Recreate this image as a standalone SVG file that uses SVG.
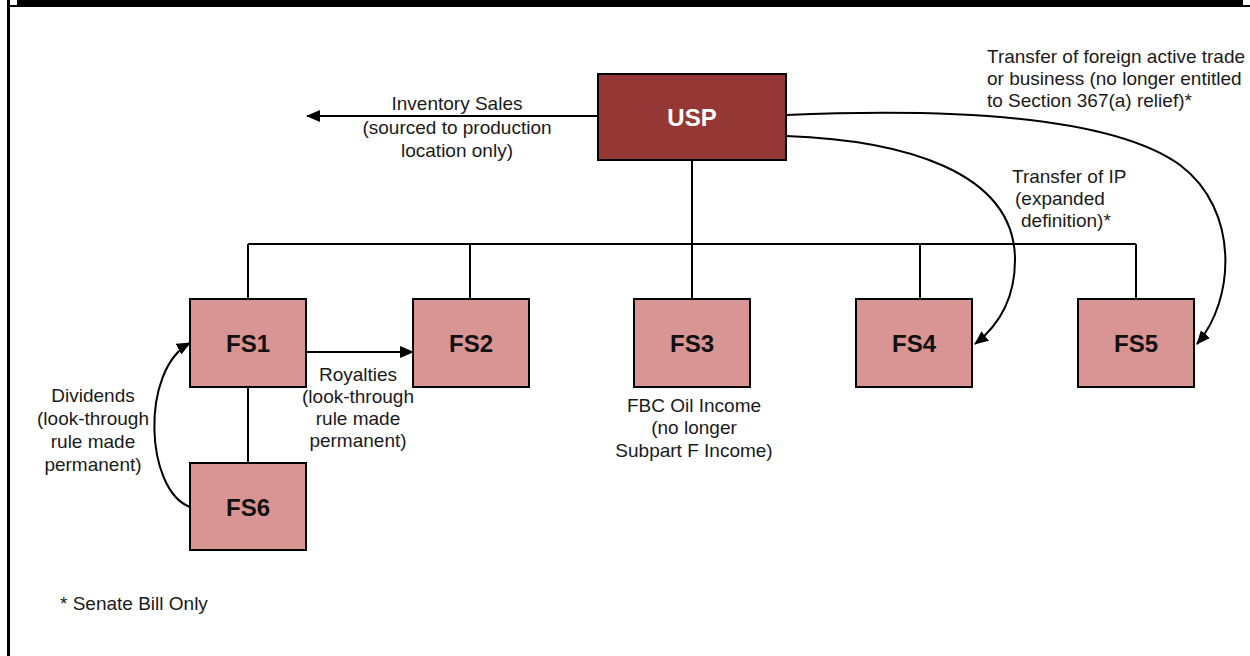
<svg xmlns="http://www.w3.org/2000/svg" width="1250" height="656" viewBox="0 0 1250 656">
  <style>
    .box { fill: #D99594; stroke: #000; stroke-width: 2; }
    .usp { fill: #953735; stroke: #000; stroke-width: 2; }
    .lbl { font-family: "Liberation Sans", Arial, sans-serif; font-size: 24px; font-weight: bold; text-anchor: middle; fill: #111; }
    .ulbl { font-family: "Liberation Sans", Arial, sans-serif; font-size: 24px; font-weight: bold; text-anchor: middle; fill: #fff; }
    .t { font-family: "Liberation Sans", Arial, sans-serif; font-size: 19px; fill: #1a1a1a; }
    .c { text-anchor: middle; }
    .ln { fill: none; stroke: #000; stroke-width: 2; }
    .ar { fill: none; stroke: #000; stroke-width: 2; marker-end: url(#ah); }
  </style>
  <defs>
    <marker id="ah" markerUnits="userSpaceOnUse" markerWidth="14" markerHeight="12" refX="13" refY="6" orient="auto">
      <path d="M0,0 L14,6 L0,12 z" fill="#000"/>
    </marker>
  </defs>
  <rect x="0" y="0" width="1250" height="656" fill="#fff"/>
  <g id="frame">
    <rect x="8" y="0" width="1242" height="7" fill="#000"/>
    <rect x="10" y="0" width="7" height="5" fill="#fff"/>
    <rect x="1243" y="0" width="7" height="5" fill="#fff"/>
    <rect x="7" y="0" width="3" height="656" fill="#000"/>
  </g>
  <g id="connectors">
    <path class="ln" d="M692,160 V244 M248,244 H1136 M248,244 V299 M470,244 V299 M692,244 V299 M920,244 V299 M1136,244 V299 M248,387 V463"/>
    <path class="ar" d="M598,116 H307"/>
    <path class="ar" d="M306,352 H413"/>
    <path class="ar" d="M190,507 C145,490 140,370 190,343"/>
    <path class="ar" d="M786,136 C900,140 1015,170 1015,260 C1015,300 998,326 975,344"/>
    <path class="ar" d="M786,115 C950,108 1110,115 1180,165 C1240,210 1235,300 1197,344"/>
  </g>
  <g id="USP">
    <rect class="usp" x="598" y="74" width="188" height="86"/>
    <text class="ulbl" x="692" y="126">USP</text>
  </g>
  <g id="FS1">
    <rect class="box" x="190" y="299" width="116" height="88"/>
    <text class="lbl" x="248" y="352">FS1</text>
  </g>
  <g id="FS2">
    <rect class="box" x="413" y="299" width="116" height="88"/>
    <text class="lbl" x="471" y="352">FS2</text>
  </g>
  <g id="FS3">
    <rect class="box" x="634" y="299" width="116" height="88"/>
    <text class="lbl" x="692" y="352">FS3</text>
  </g>
  <g id="FS4">
    <rect class="box" x="856" y="299" width="116" height="88"/>
    <text class="lbl" x="914" y="352">FS4</text>
  </g>
  <g id="FS5">
    <rect class="box" x="1078" y="299" width="116" height="88"/>
    <text class="lbl" x="1136" y="352">FS5</text>
  </g>
  <g id="FS6">
    <rect class="box" x="190" y="463" width="116" height="87"/>
    <text class="lbl" x="248" y="516">FS6</text>
  </g>
  <g id="labels">
    <text class="t c" x="457" y="110">Inventory Sales</text>
    <text class="t c" x="457" y="134">(sourced to production</text>
    <text class="t c" x="457" y="157">location only)</text>

    <text class="t" x="987" y="63">Transfer of foreign active trade</text>
    <text class="t" x="987" y="85">or business (no longer entitled</text>
    <text class="t" x="987" y="107">to Section 367(a) relief)*</text>

    <text class="t" x="1012" y="183">Transfer of IP</text>
    <text class="t" x="1015" y="205">(expanded</text>
    <text class="t" x="1021" y="227">definition)*</text>

    <text class="t c" x="358" y="381">Royalties</text>
    <text class="t c" x="358" y="403">(look-through</text>
    <text class="t c" x="358" y="425">rule made</text>
    <text class="t c" x="358" y="447">permanent)</text>

    <text class="t c" x="93" y="402">Dividends</text>
    <text class="t c" x="93" y="425">(look-through</text>
    <text class="t c" x="93" y="448">rule made</text>
    <text class="t c" x="93" y="471">permanent)</text>

    <text class="t c" x="694" y="412">FBC Oil Income</text>
    <text class="t c" x="694" y="434">(no longer</text>
    <text class="t c" x="694" y="457">Subpart F Income)</text>

    <text class="t" x="60" y="610">* Senate Bill Only</text>
  </g>
</svg>
